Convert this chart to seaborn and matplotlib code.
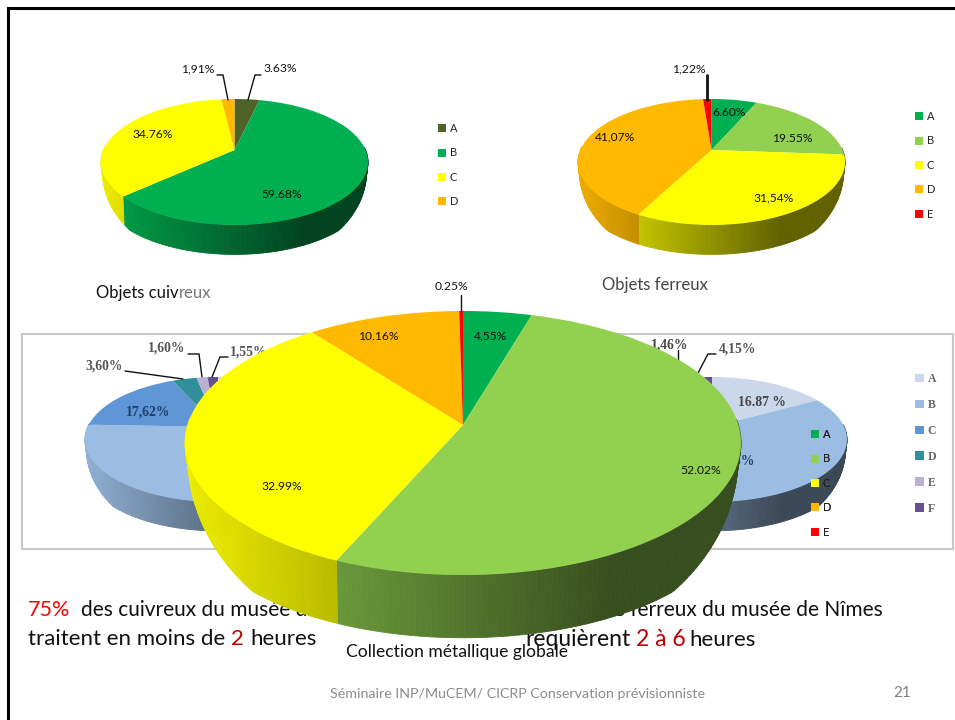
import numpy as np
import seaborn as sns
import matplotlib
matplotlib.use("Agg")
import matplotlib.pyplot as plt
from matplotlib.collections import PolyCollection
from matplotlib.patches import Patch, Rectangle
from matplotlib.transforms import Affine2D, Transform

# values (hidden slices of the blue pies are estimates)
copper_values = [3.63, 59.68, 34.76, 1.91]
iron_values = [6.60, 19.55, 31.54, 41.07, 1.22]
total_values = [4.55, 52.02, 32.99, 10.16, 0.25]
blue_left_values = [6.40, 69.23, 17.62, 3.60, 1.60, 1.55]
blue_right_values = [16.87, 68.23, 5.30, 3.99, 1.46, 4.15]

copper_labels = ["A", "B", "C", "D"]
iron_labels = ["A", "B", "C", "D", "E"]
blue_labels = ["A", "B", "C", "D", "E", "F"]

copper_colors = sns.color_palette(["#4F6228", "#00B050", "#FFFF00", "#FFB900"])
metal_colors = sns.color_palette(["#00B050", "#92D050", "#FFFF00", "#FFB900", "#FF0000"])
blue_colors = sns.color_palette(["#CBD8EC", "#9BBDE3", "#5F96D6", "#2F9099", "#BBB0D3", "#68508F"])

W, H = 955, 720
FONT = "Lato"


class Persp(Transform):
    # flat disc seen in perspective, the centre is not the middle of the ellipse
    input_dims = 2
    output_dims = 2
    is_separable = False

    def __init__(self, k):
        super().__init__()
        self.k = k

    def transform_non_affine(self, values):
        values = np.asarray(values)
        d = 1 + self.k * values[:, 1]
        return np.column_stack([values[:, 0] / d, values[:, 1] / d])


def pie3d(ax, values, colors, cx, cy, up, down, half_w, depth, z):
    k = (down - up) / (down + up)
    ry = up * (1 + k)
    rx = half_w * np.sqrt(1 - k * k)

    # side wall, one thin quad per degree, it tapers off towards the widest points
    fracs = np.cumsum([0] + list(values)) / sum(values)
    quads, shades = [], []
    for i, c in enumerate(colors):
        n = max(2, int((fracs[i + 1] - fracs[i]) * 360))
        a = 2 * np.pi * np.linspace(fracs[i], fracs[i + 1], n + 1)
        d = 1 + k * np.cos(a)
        xt = cx + rx * np.sin(a) / d
        yt = cy - ry * np.cos(a) / d
        xb = cx + 0.99 * rx * np.sin(a) / d
        yb = cy - 0.985 * ry * np.cos(a) / d + depth * np.clip(-np.cos(a) / 0.72, 0, 1)
        for j in range(n):
            if np.cos(a[j]) > 0.05:
                continue
            quads.append([(xt[j], yt[j]), (xt[j + 1], yt[j + 1]), (xb[j + 1], yb[j + 1]), (xb[j], yb[j])])
            t = (xt[j] - (cx - half_w)) / (2 * half_w)
            s = max(0.38, 0.93 - 0.72 * t)
            shades.append(tuple(np.array(c) * s))
    wall = PolyCollection(quads, facecolors=shades, edgecolors=shades, linewidths=0.6, zorder=z)
    ax.add_collection(wall)

    wedges, _ = ax.pie(values, colors=colors, startangle=90, counterclock=False,
                       wedgeprops={"linewidth": 0})
    tr = Persp(k) + Affine2D().scale(rx, -ry).translate(cx, cy) + ax.transData
    for w in wedges:
        w.set_transform(tr)
        w.set_zorder(z + 0.1)
    return wedges


def add_legend(ax, labels, colors, x, y, pitch, z, font=FONT, tcolor="#222222", size=8, weight="normal"):
    handles = [Patch(color=c, linewidth=0) for c in colors]
    leg = ax.legend(handles, labels, loc="upper left", bbox_to_anchor=(x, y), bbox_transform=ax.transData,
                    frameon=False, borderpad=0, borderaxespad=0, handlelength=0.72, handleheight=0.72,
                    handletextpad=0.35, labelspacing=pitch,
                    prop={"family": font, "size": size, "weight": weight}, labelcolor=tcolor)
    leg.set_zorder(z)
    ax.add_artist(leg)


sns.set_theme(style="white")
fig = plt.figure(figsize=(W / 100, H / 100), dpi=100, facecolor="white")
ax = fig.add_axes([0, 0, 1, 1])

# the blurred picture in the back
ax.add_patch(Rectangle((22, 334), 931, 215, fill=False, edgecolor="#C8C8C8", linewidth=1.5, zorder=1))
pie3d(ax, blue_left_values, blue_colors, 218, 427, 50, 75, 133, 30, 2)
pie3d(ax, blue_right_values, blue_colors, 712, 427, 50, 75, 135, 30, 2)
add_legend(ax, blue_labels, blue_colors, 915, 373, 1.18, 3, font="Liberation Serif", tcolor="#666666", size=8.5, weight="bold")

# top pies
pie3d(ax, copper_values, copper_colors, 234.5, 150, 51, 75, 133.5, 30.5, 4)
pie3d(ax, iron_values, metal_colors, 711.5, 150, 51, 75, 133.5, 30.5, 4)
add_legend(ax, copper_labels, copper_colors, 438, 123, 1.21, 6)
add_legend(ax, iron_labels, metal_colors, 915, 111, 1.21, 6)


def pct(s, x, y, z=5, color="#111111", font=FONT, size=8.7, weight="normal"):
    ax.text(x, y, s, ha="center", va="center", fontsize=size, color=color, family=font, weight=weight, zorder=z)


def leader(xs, ys, z=5, lw=1.0):
    ax.plot(xs, ys, color="#111111", lw=lw, zorder=z, solid_joinstyle="miter")


pct("3.63%", 280, 69)
pct("1,91%", 197.5, 69)
pct("34.76%", 153, 135)
pct("59.68%", 282, 195)
leader([261, 255, 248], [75, 75, 100])
leader([217, 223, 228], [75, 75, 100])

pct("1,22%", 689, 69)
pct("6.60%", 729, 113)
pct("19.55%", 792.5, 138)
pct("31,54%", 774, 198)
pct("41,07%", 615, 137)
leader([707, 707], [75, 100], lw=2.0)

ax.text(96, 293, "Objets cuiv", fontsize=12, family=FONT, color="#111111", va="center", zorder=5)
ax.text(179, 293, "reux", fontsize=12, family=FONT, color="#777777", va="center", zorder=5)
ax.text(602, 285, "Objets ferreux", fontsize=12, family=FONT, color="#444444", va="center", zorder=5)

# labels of the blue pies
blue_font = "Liberation Serif"
blue_size = 9.8
pct("3,60%", 104, 366, color="#555555", font=blue_font, size=blue_size, weight="bold")
pct("1,60%", 167, 348, color="#555555", font=blue_font, size=blue_size, weight="bold")
pct("1,55%", 249, 352, color="#555555", font=blue_font, size=blue_size, weight="bold")
pct("17,62%", 148, 412, color="#1F3F66", font=blue_font, size=blue_size, weight="bold")
pct("1,46%", 670, 345, color="#444444", font=blue_font, size=blue_size, weight="bold")
pct("4,15%", 738, 349, color="#555555", font=blue_font, size=blue_size, weight="bold")
pct("16.87 %", 762, 402, color="#444444", font=blue_font, size=blue_size, weight="bold")
pct("68,23%", 733, 461, color="#1F3F66", font=blue_font, size=blue_size, weight="bold")
leader([125, 183], [371, 379], z=3)
leader([188, 199, 202], [354, 354, 377], z=3)
leader([228, 220, 212], [357, 357, 377], z=3)
leader([678, 678], [350, 362], z=3)
leader([716, 708, 698], [354, 354, 373], z=3)

# text of the slide, partly covered by the big pie
ax.text(28, 610, "75%", color="#FF0000", fontsize=15.5, family=FONT, va="center", zorder=3)
ax.text(81, 610, "des cuivreux du musée de Nîmes", color="#111111", fontsize=15, family=FONT, va="center", zorder=3)
ax.text(28, 639, "traitent en moins de", color="#111111", fontsize=16, family=FONT, va="center", zorder=3)
ax.text(231, 639, "2", color="#C00000", fontsize=16, family=FONT, va="center", zorder=3)
ax.text(250, 639, "heures", color="#111111", fontsize=16, family=FONT, va="center", zorder=3)
ax.text(883, 610, "des ferreux du musée de Nîmes", color="#111111", fontsize=15, family=FONT, va="center", ha="right", zorder=3)
ax.text(525, 640, "requièrent", color="#111111", fontsize=16.5, family=FONT, va="center", zorder=9)
ax.text(636, 640, "2 à 6", color="#C00000", fontsize=16.5, family=FONT, va="center", zorder=9)
ax.text(689, 640, "heures", color="#111111", fontsize=16, family=FONT, va="center", zorder=9)

# big pie on top of everything
pie3d(ax, total_values, metal_colors, 463, 425, 114, 150, 278, 65, 7)
pct("0.25%", 451, 287, z=9)
pct("4,55%", 491, 336, z=9)
pct("10.16%", 378, 337, z=9)
pct("52.02%", 701, 471, z=9)
pct("32.99%", 282, 487, z=9)
leader([461, 461], [295, 311], z=9)
add_legend(ax, iron_labels, metal_colors, 811, 429, 1.21, 9)

ax.text(346, 652, "Collection métallique globale", fontsize=12.6, family=FONT, color="#111111", va="center", zorder=9)
ax.text(330, 694, "Séminaire INP/MuCEM/ CICRP Conservation prévisionniste", fontsize=10.3, family=FONT, color="#8C8C8C", va="center", zorder=9)
ax.text(893, 693, "21", fontsize=11, family=FONT, color="#808080", va="center", zorder=9)

# slide border, left and top only
ax.plot([8, 8, W], [H, 8, 8], color="black", lw=2.2, zorder=10, solid_joinstyle="miter")

ax.set_aspect("auto")
ax.set(xlim=(0, W), ylim=(H, 0), xticks=[], yticks=[])
ax.set_axis_off()

fig.savefig("out.png", dpi=100, facecolor="white")
